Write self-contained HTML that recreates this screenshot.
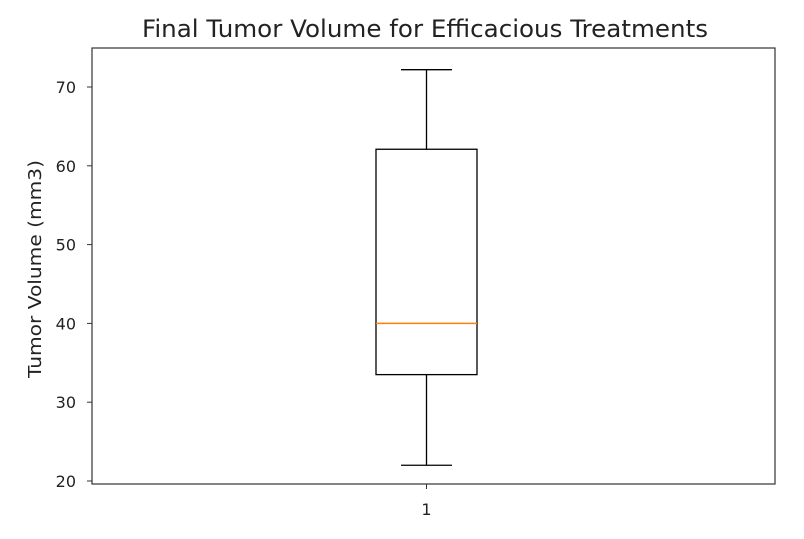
<!DOCTYPE html>
<html><head><meta charset="utf-8"><style>body{margin:0;background:#fff}svg text{font-family:"DejaVu Sans","Liberation Sans",sans-serif;fill:#222}</style></head>
<body>
<svg id="c" width="804" height="534" xmlns="http://www.w3.org/2000/svg">
<text x="425" y="37" font-size="24" text-anchor="middle" textLength="566" lengthAdjust="spacingAndGlyphs">Final Tumor Volume for Efficacious Treatments</text>
<text transform="translate(41,269) rotate(-90)" font-size="18" text-anchor="middle" textLength="218" lengthAdjust="spacingAndGlyphs">Tumor Volume (mm3)</text>
<g id="g"></g>
<rect x="92" y="48" width="683" height="436" fill="none" stroke="#333" stroke-width="1.2"/>
</svg>
<script>
const categories = ["1"];
const whiskerLow = [22.0];
const q1 = [33.5];
const median = [40.0];
const q3 = [62.1];
const whiskerHigh = [72.2];
const yTicks = [20, 30, 40, 50, 60, 70];
const NS = "http://www.w3.org/2000/svg";
const g = document.getElementById('g');
const y = v => 481 - (v - 20) * 7.88;
const x = i => 426.5 + i * 100;
function mk(t, a) { const e = document.createElementNS(NS, t); for (const k in a) e.setAttribute(k, a[k]); g.appendChild(e); return e; }
yTicks.forEach(v => {
  const l = mk('line', {x1: 87, x2: 92, y1: y(v), y2: y(v), stroke: '#333'});
  
  
  const t = mk('text', {x: 76, y: y(v) + 6, 'font-size': 16, 'text-anchor': 'end'});
  t.textContent = v;
  
  
});
categories.forEach((c, i) => {
  const cx = x(i);
  const tk = mk('line', {x1: cx, x2: cx, y1: 484, y2: 489, stroke: '#333'});
  
  
  const t = mk('text', {x: cx, y: 515, 'font-size': 16, 'text-anchor': 'middle'});
  t.textContent = c;
  
  
  const w1 = mk('line', {x1: cx, x2: cx, y1: y(whiskerHigh[i]), y2: y(q3[i]), stroke: '#000', 'stroke-width': 1.3});
  
  
  const w2 = mk('line', {x1: cx, x2: cx, y1: y(q1[i]), y2: y(whiskerLow[i]), stroke: '#000', 'stroke-width': 1.3});
  
  
  const c1 = mk('line', {x1: cx - 25.5, x2: cx + 25.5, y1: y(whiskerHigh[i]), y2: y(whiskerHigh[i]), stroke: '#000', 'stroke-width': 1.3});
  
  
  const c2 = mk('line', {x1: cx - 25.5, x2: cx + 25.5, y1: y(whiskerLow[i]), y2: y(whiskerLow[i]), stroke: '#000', 'stroke-width': 1.3});
  
  
  const b = mk('rect', {x: cx - 50.5, width: 101, y: y(q3[i]), height: y(q1[i]) - y(q3[i]), fill: 'none', stroke: '#000', 'stroke-width': 1.3});
  
  
  const m = mk('line', {x1: cx - 50.5, x2: cx + 50.5, y1: y(median[i]), y2: y(median[i]), stroke: '#ff7f0e', 'stroke-width': 1.5});
  
  
});
</script>
</body></html>
